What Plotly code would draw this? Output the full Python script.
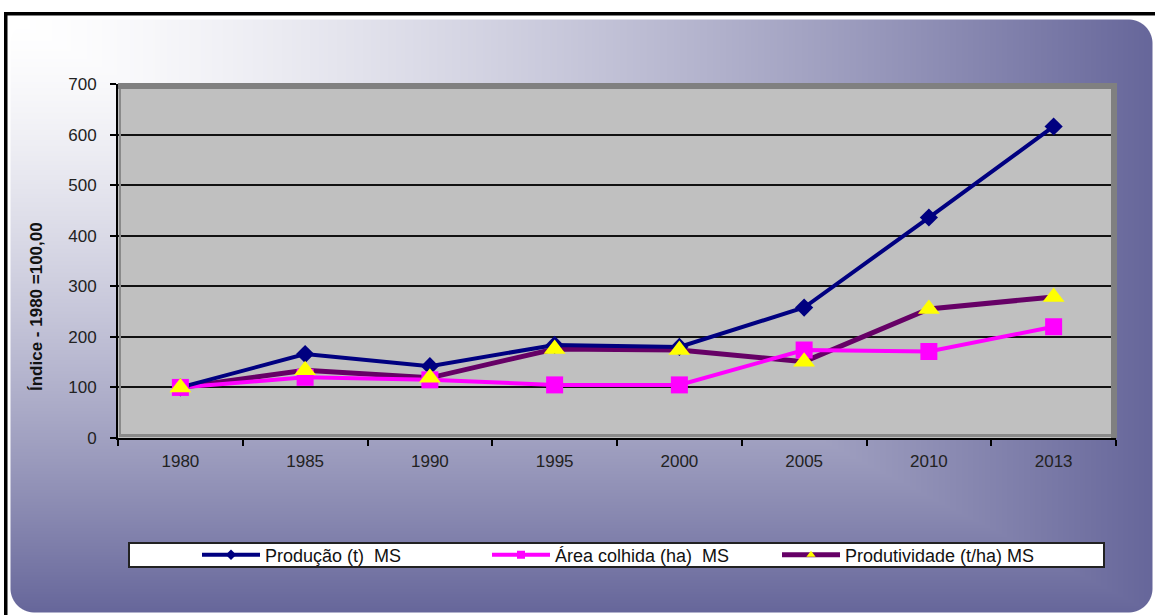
import base64
import struct
import zlib

import numpy as np
import plotly.graph_objects as go

# --- data -------------------------------------------------------------
anos = ["1980", "1985", "1990", "1995", "2000", "2005", "2010", "2013"]
producao = [100, 166, 142, 184, 180, 258, 436, 616]
area_colhida = [100, 120, 115, 105, 105, 174, 171, 220]
produtividade = [100, 134, 119, 176, 174, 151, 255, 279]
y_ticks = [0, 100, 200, 300, 400, 500, 600, 700]

nome_producao = "Produção (t)  MS"
nome_area = "Área colhida (ha)  MS"
nome_produtividade = "Produtividade (t/ha) MS"
titulo_y = "Índice - 1980 =100,00"

# --- page geometry (pixels) ---------------------------------------------
W, H = 1155, 615
L, R, T, B = 118, 39, 84, 177
PW, PH = W - L - R, H - T - B


def px(x):
    return (x - L) / PW


def py(y):
    return (H - B - y) / PH


# --- gradient panel with rounded corners, encoded as a PNG -----------------
def png_uri(rgb):
    h, w, _ = rgb.shape
    raw = np.concatenate([np.zeros((h, 1), np.uint8), rgb.reshape(h, w * 3)], axis=1).tobytes()

    def chunk(tag, data):
        return (struct.pack(">I", len(data)) + tag + data
                + struct.pack(">I", zlib.crc32(tag + data) & 0xFFFFFFFF))

    png = (b"\x89PNG\r\n\x1a\n"
           + chunk(b"IHDR", struct.pack(">IIBBBBB", w, h, 8, 2, 0, 0, 0))
           + chunk(b"IDAT", zlib.compress(raw, 9))
           + chunk(b"IEND", b""))
    return "data:image/png;base64," + base64.b64encode(png).decode()


yy, xx = np.mgrid[0:H, 0:W].astype(float)
x0, y0, x1, y1, rad = 10, 19, 1152, 612, 24
u = np.clip((xx - x0) / (x1 - x0), 0, 1)
v = np.clip((yy - y0) / (y1 - y0), 0, 1)
s = np.maximum(u, v) ** 1.4
white = np.array([255.0, 255.0, 255.0])
slate = np.array([102.0, 102.0, 154.0])
panel = white * (1 - s[..., None]) + slate * s[..., None]
cx = np.clip(xx, x0 + rad, x1 - rad)
cy = np.clip(yy, y0 + rad, y1 - rad)
dist = np.sqrt((xx - cx) ** 2 + (yy - cy) ** 2) - rad
alpha = np.clip(0.5 - dist, 0, 1)[..., None]
img = (panel * alpha + white * (1 - alpha)).round().astype(np.uint8)
fundo = png_uri(img)

# --- traces -------------------------------------------------------------
fig = go.Figure()

# lines first (small markers only feed the legend symbols)
linhas = [
    (nome_produtividade, produtividade, "#660066", 5, "triangle-up", "#ffff00", 3),
    (nome_area, area_colhida, "#ff00ff", 4, "square", "#ff00ff", 2),
    (nome_producao, producao, "#000080", 4, "diamond", "#000080", 1),
]
for nome, vals, cor, lw, simb, mcor, rank in linhas:
    fig.add_trace(go.Scatter(
        x=anos, y=vals, name=nome, mode="lines+markers",
        line=dict(color=cor, width=lw),
        marker=dict(symbol=simb, size=8, color=mcor, line=dict(width=0)),
        legendrank=rank, hoverinfo="skip",
    ))

# markers on top of all lines
marcadores = [
    (producao, "diamond", "#000080", 14),
    (area_colhida, "square", "#ff00ff", 17),
    (produtividade, "triangle-up", "#ffff00", 19),
]
for vals, simb, cor, tam in marcadores:
    fig.add_trace(go.Scatter(
        x=anos, y=vals, mode="markers", showlegend=False,
        marker=dict(symbol=simb, size=tam, color=cor, line=dict(width=0)),
    ))

# --- decoration shapes ----------------------------------------------------
shapes = [
    # plot area fill
    dict(type="rect", xref="paper", yref="paper", x0=0, x1=1, y0=0, y1=1,
         fillcolor="#c0c0c0", line=dict(width=0), layer="below"),
    # grey frame of the plot area
    dict(type="rect", xref="paper", yref="paper", x0=0, x1=1, y0=py(89), y1=py(83),
         fillcolor="#808080", line=dict(width=0), layer="above"),
    dict(type="rect", xref="paper", yref="paper", x0=px(1111), x1=px(1117), y0=0, y1=py(83),
         fillcolor="#808080", line=dict(width=0), layer="above"),
    dict(type="rect", xref="paper", yref="paper", x0=px(119), x1=px(121), y0=py(437), y1=py(89),
         fillcolor="#8a8a8a", line=dict(width=0), layer="above"),
    dict(type="rect", xref="paper", yref="paper", x0=px(119), x1=px(1111), y0=py(437), y1=py(434),
         fillcolor="#8a8a8a", line=dict(width=0), layer="above"),
    # black page frame
    dict(type="rect", xref="paper", yref="paper", x0=px(4), x1=px(W), y0=py(15.5), y1=py(12),
         fillcolor="#000000", line=dict(width=0), layer="above"),
    dict(type="rect", xref="paper", yref="paper", x0=px(4), x1=px(7.5), y0=py(H), y1=py(12),
         fillcolor="#000000", line=dict(width=0), layer="above"),
    # legend box
    dict(type="rect", xref="paper", yref="paper", x0=px(129), x1=px(1104), y0=py(567), y1=py(543),
         fillcolor="#ffffff", line=dict(color="#222222", width=2), layer="above"),
]

fonte = "Liberation Sans, Arial, sans-serif"

fig.update_layout(
    width=W, height=H,
    margin=dict(l=L, r=R, t=T, b=B, pad=0, autoexpand=False),
    paper_bgcolor="#ffffff",
    plot_bgcolor="rgba(0,0,0,0)",
    images=[dict(source=fundo, xref="paper", yref="paper",
                 x=px(0), y=py(0), sizex=W / PW, sizey=H / PH,
                 xanchor="left", yanchor="top", sizing="stretch", layer="below")],
    shapes=shapes,
    showlegend=True,
    legend=dict(orientation="h", x=px(197), xanchor="left", y=py(555), yanchor="middle",
                bgcolor="rgba(0,0,0,0)", borderwidth=0, itemwidth=58,
                font=dict(family=fonte, size=18, color="#111111"),
                entrywidth=217, entrywidthmode="pixels", traceorder="normal"),
    annotations=[dict(text="<b>" + titulo_y + "</b>", xref="paper", yref="paper",
                      x=px(36), y=py(307), xanchor="center", yanchor="middle",
                      textangle=-90, showarrow=False,
                      font=dict(family=fonte, size=17, color="#111111"))],
)

fig.update_xaxes(
    type="category", categoryorder="array", categoryarray=anos,
    range=[-0.5, len(anos) - 0.5],
    showline=True, linecolor="#000000", linewidth=2,
    ticks="outside", tickson="boundaries", ticklen=6, tickcolor="#000000", tickwidth=1.5,
    showgrid=False, zeroline=False, ticklabelstandoff=7,
    tickfont=dict(family=fonte, size=17, color="#222222"),
)
fig.update_yaxes(
    range=[0, 700], tickmode="array", tickvals=y_ticks, ticktext=[str(t) for t in y_ticks],
    showline=True, linecolor="#000000", linewidth=2,
    ticks="outside", ticklen=6, tickcolor="#000000", tickwidth=1.5,
    showgrid=True, gridcolor="#111111", gridwidth=1.5, zeroline=False,
    ticklabelstandoff=10,
    tickfont=dict(family=fonte, size=17, color="#222222"),
)

fig.write_html("out.html")
